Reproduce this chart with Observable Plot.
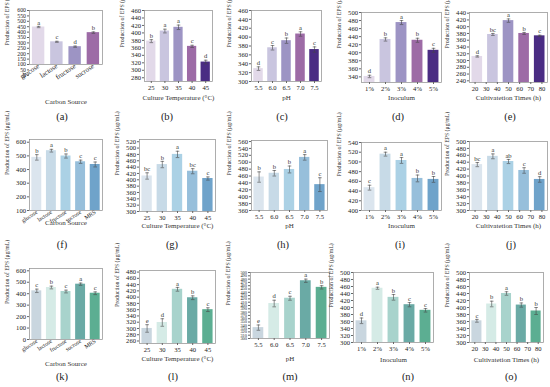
<!DOCTYPE html>
<html><head><meta charset="utf-8">
<script src="https://cdn.jsdelivr.net/npm/d3@7"></script>
<script src="https://cdn.jsdelivr.net/npm/@observablehq/plot@0.6"></script>
<style>
body{margin:0;background:#fff;}
#wrap{position:relative;width:550px;height:387px;overflow:hidden;font-family:"Liberation Serif","Times New Roman",serif;color:#222;}
#wrap svg{position:absolute;overflow:visible !important;max-width:none !important;}
.cap{position:absolute;font-size:10.5px;transform:translateX(-50%);white-space:nowrap;line-height:1;}
</style></head><body><div id="wrap"></div>
<script>
// ---------- categories / tick labels ----------
const carbon4 = ["glucose","lactose","fructose","sucrose"];
const carbon5 = ["glucose","lactose","fructose","sucrose","MRS"];
const temps = ["25","30","35","40","45"];
const phs = ["5.5","6.0","6.5","7.0","7.5"];
const inocula = ["1%","2%","3%","4%","5%"];
const timeLabels = ["20","30","40","50","60","70","80"];
const yTitle = "Production of EPS (μg/mL)";

// ---------- values ----------
const valsA = [447, 310, 265, 395];       const errA = [6, 5, 6, 7];       const letA = ["a","c","d","b"];
const valsB = [378, 405, 415, 364, 322];  const errB = [4, 5, 6, 3, 5];    const letB = ["b","a","a","c","d"];
const valsC = [329, 376, 392, 407, 372];  const errC = [4, 5, 6, 5, 6];    const letC = ["d","c","b","a","c"];
const valsD = [341, 433, 475, 431, 406];  const errD = [3, 4, 5, 5, 5];    const letD = ["d","b","a","b","c"];
const valsE = [312, 377, 418, 380, 373];  const errE = [2, 3, 5, 3, 2];    const letE = ["d","bc","a","b","c"];
const valsF = [489, 538, 499, 457, 437];  const errF = [20, 10, 15, 12, 18]; const letF = ["b","a","b","c","c"];
const valsG = [412, 448, 480, 427, 404];  const errG = [10, 10, 10, 8, 5]; const letG = ["bc","b","a","bc","c"];
const valsH = [457, 468, 479, 514, 435];  const errH = [15, 8, 10, 8, 20];  const letH = ["b","b","b","a","c"];
const valsI = [447, 516, 503, 466, 464];  const errI = [5, 4, 6, 7, 6];    const letI = ["c","a","a","b","b"];
const valsJ = [433, 457, 442, 416, 390];  const errJ = [6, 7, 6, 8, 8];    const letJ = ["bc","a","ab","c","d"];
const valsK = [425, 454, 419, 483, 404];  const errK = [15, 12, 12, 10, 12]; const letK = ["c","b","c","a","c"];
const valsL = [300, 319, 425, 398, 360];  const errL = [12, 12, 6, 6, 6];  const letL = ["e","d","a","b","c"];
const valsM = [333, 406, 422, 475, 455];  const errM = [8, 10, 6, 5, 5];   const letM = ["e","d","c","a","b"];
const valsN = [362, 455, 429, 408, 392];  const errN = [8, 3, 8, 6, 5];    const letN = ["d","a","b","c","c"];
const valsO = [362, 410, 440, 407, 390];  const errO = [4, 8, 5, 6, 10];   const letO = ["c","b","a","b","b"];

// ---------- y tick values ----------
const ticksA = [0,50,100,150,200,250,300,350,400,450,500,550,600];
const ticksB = [280,300,320,340,360,380,400,420,440,460];
const ticksC = [300,320,340,360,380,400,420,440,460];
const ticksD = [340,360,380,400,420,440,460,480,500];
const ticksE = [240,260,280,300,320,340,360,380,400,420,440];
const ticksF = [100,200,300,400,500,600];
const ticksG = [300,320,340,360,380,400,420,440,460,480,500,520];
const ticksH = [360,380,400,420,440,460,480,500,520,540,560];
const ticksI = [400,420,440,460,480,500,520,540];
const ticksJ = [300,320,340,360,380,400,420,440,460,480,500];
const ticksK = [0,100,200,300,400,500,600];
const ticksL = [260,280,300,320,340,360,380,400,420,440,460,480];
const ticksM = [300,310,320,330,340,350,360,370,380,390,400,410,420,430,440,450,460,470,480,490,500];
const ticksN = [300,320,340,360,380,400,420,440,460,480,500];
const ticksO = [300,320,340,360,380,400,420,440,460,480,500];

// ---------- colours ----------
const purple = ["#e2d9e9","#c9c5df","#9d94c4","#9d6ba6","#4a2c83"];
const blue = ["#dbe5ee","#c7dae7","#abd1e5","#97bfdb","#6fa3ca"];
const teal = ["#c9d6df","#d5ebe6","#a8d3cc","#6aaaa5","#5cae92"];

const panels = [
 {L:29,R:102,T:10,B:64, dom:[100,600], ticks:ticksA, x:carbon4, vals:valsA, errs:errA, lets:letA, cols:purple, xt:"Carbon Source", rot:true, xfs:7, xtY:103, ytY:45, cap:"(a)", capX:62, capY:118, tfs:5.8},
 {L:144,R:212,T:10,B:81, dom:[270,460], ticks:ticksB, x:temps, vals:valsB, errs:errB, lets:letB, cols:purple, xt:"Culture Temperature (°C)", xtY:99, ytY:47, cap:"(b)", capX:167, capY:118},
 {L:251,R:321,T:10,B:81, dom:[300,460], ticks:ticksC, x:phs, vals:valsC, errs:errC, lets:letC, cols:purple, xt:"pH", xtY:99, ytY:47, cap:"(c)", capX:282, capY:118},
 {L:361,R:441,T:12,B:82, dom:[326,500], ticks:ticksD, x:inocula, vals:valsD, errs:errD, lets:letD, cols:purple, xt:"Inoculum", xtY:99, ytY:48, cap:"(d)", capX:398, capY:118},
 {L:469,R:547,T:12,B:82, dom:[235,442], ticks:ticksE, x:timeLabels, vals:valsE, errs:errE, lets:letE, cols:purple, xt:"Cultivatetion Times (h)", xtY:99, ytY:48, cap:"(e)", capX:510, capY:118},

 {L:29,R:102,T:139,B:210, dom:[100,620], ticks:ticksF, x:carbon5, vals:valsF, errs:errF, lets:letF, cols:blue, xt:"Carbon Source", rot:true, xfs:5.8, xtY:224, cap:"(f)", capX:62, capY:246},
 {L:139,R:215,T:139,B:211, dom:[300,527], ticks:ticksG, x:temps, vals:valsG, errs:errG, lets:letG, cols:blue, xt:"Culture Temperature (°C)", xtY:227, cap:"(g)", capX:172, capY:246},
 {L:251,R:327,T:140,B:210, dom:[360,563], ticks:ticksH, x:phs, vals:valsH, errs:errH, lets:letH, cols:blue, xt:"pH", xtY:227, cap:"(h)", capX:283, capY:246},
 {L:361,R:441,T:142,B:210, dom:[400,540], ticks:ticksI, x:inocula, vals:valsI, errs:errI, lets:letI, cols:blue, xt:"Inoculum", xtY:227, cap:"(i)", capX:400, capY:246},
 {L:469,R:547,T:141,B:210, dom:[300,500], ticks:ticksJ, x:timeLabels, vals:valsJ, errs:errJ, lets:letJ, cols:blue, xt:"Cultivatetion Times (h)", xtY:227, cap:"(j)", capX:511, capY:246},

 {L:29,R:102,T:268,B:339, dom:[0,620], ticks:ticksK, x:carbon5, vals:valsK, errs:errK, lets:letK, cols:teal, xt:"Carbon Source", rot:true, xfs:5.8, xtY:365, cap:"(k)", capX:62, capY:378},
 {L:139,R:215,T:270,B:343, dom:[252,485], ticks:ticksL, x:temps, vals:valsL, errs:errL, lets:letL, cols:teal, xt:"Culture Temperature (°C)", xtY:360, cap:"(l)", capX:173, capY:378},
 {L:250,R:329,T:272,B:338, dom:[300,500], ticks:ticksM, x:phs, vals:valsM, errs:errM, lets:letM, cols:teal, xt:"pH", xtY:360, cap:"(m)", capX:290, capY:378, tfs:4.4},
 {L:353,R:433,T:272,B:342, dom:[300,500], ticks:ticksN, x:inocula, vals:valsN, errs:errN, lets:letN, cols:teal, xt:"Inoculum", xtY:361, cap:"(n)", capX:408, capY:378},
 {L:469,R:543,T:272,B:342, dom:[300,500], ticks:ticksO, x:timeLabels, vals:valsO, errs:errO, lets:letO, cols:teal, xt:"Cultivatetion Times (h)", xtY:361, cap:"(o)", capX:511, capY:378}
];

const wrap = document.getElementById("wrap");
const mr = 4, mb = 44;

panels.forEach(p => {
  const mt = Math.min(p.T, 14);
  const ml = Math.min(p.L, 56);
  const n = p.vals.length;
  const pad = 0.32;
  const fw = p.R - p.L, fh = p.B - p.T;
  const rows = p.vals.map((v, i) => ({v, e: p.errs[i], l: p.lets[i], c: p.cols[i], x1: i + pad/2, x2: i + 1 - pad/2, xc: i + 0.5}));
  const m = p.x.length;
  const tickPos = p.x.map((s, j) => (j + 0.5) * n / m);
  const labelMap = new Map(tickPos.map((t, j) => [t, p.x[j]]));
  const capW = 1.8 * n / fw;
  const tfs = p.tfs || 6.6;
  const ytDy = p.ytY != null ? p.ytY - (p.T + p.B) / 2 : 0;
  const chart = Plot.plot({
    width: ml + fw + mr, height: mt + fh + mb,
    marginLeft: ml, marginRight: mr, marginTop: mt, marginBottom: mb,
    style: {fontFamily: "Liberation Serif, Times New Roman, serif", fontSize: "6.6px", overflow: "visible", background: "transparent", color: "#222"},
    x: {type: "linear", domain: [0, n]},
    y: {domain: p.dom},
    color: {type: "identity"},
    marks: [
      Plot.rectY(rows, {x1: "x1", x2: "x2", y1: () => p.dom[0], y2: "v", fill: "c"}),
      Plot.ruleX(rows, {x: "xc", y1: d => d.v - d.e, y2: d => d.v + d.e, stroke: "#444", strokeWidth: 0.6}),
      Plot.link(rows, {x1: d => d.xc - capW, x2: d => d.xc + capW, y1: d => d.v + d.e, y2: d => d.v + d.e, stroke: "#444", strokeWidth: 0.6}),
      Plot.link(rows, {x1: d => d.xc - capW, x2: d => d.xc + capW, y1: d => d.v - d.e, y2: d => d.v - d.e, stroke: "#444", strokeWidth: 0.6}),
      Plot.text(rows, {x: "xc", y: d => d.v + d.e, text: "l", dy: -4, fontSize: 6.6, fill: "#333"}),
      Plot.frame({stroke: "#8a8a8a", strokeWidth: 0.7}),
      Plot.axisY(p.ticks, {anchor: "left", tickSize: 2, tickPadding: 1.5, fontSize: tfs, label: null, stroke: "#666"}),
      Plot.axisX(tickPos, {anchor: "bottom", tickSize: p.rot ? 0 : 2, tickPadding: p.rot ? 1 : 2, fontSize: p.xfs || 6.6, label: null,
        tickRotate: p.rot ? -33 : 0, tickFormat: d => labelMap.get(d), stroke: "#666"}),
      Plot.text([p.xt], {frameAnchor: "bottom", dy: p.xtY - p.B, text: d => d, fontSize: 7, fill: "#333"}),
      Plot.text([yTitle], {frameAnchor: "left", rotate: -90, dx: -22, dy: ytDy, text: d => d, fontSize: 5.8, fill: "#333"})
    ]
  });
  chart.classList.add("panel");
  chart.style.left = (p.L - ml) + "px";
  chart.style.top = (p.T - mt) + "px";
  wrap.appendChild(chart);
  const cap = document.createElement("div");
  cap.className = "cap";
  cap.textContent = p.cap;
  cap.style.left = p.capX + "px";
  cap.style.top = (p.capY - 6) + "px";
  wrap.appendChild(cap);
});
</script>
</body></html>
